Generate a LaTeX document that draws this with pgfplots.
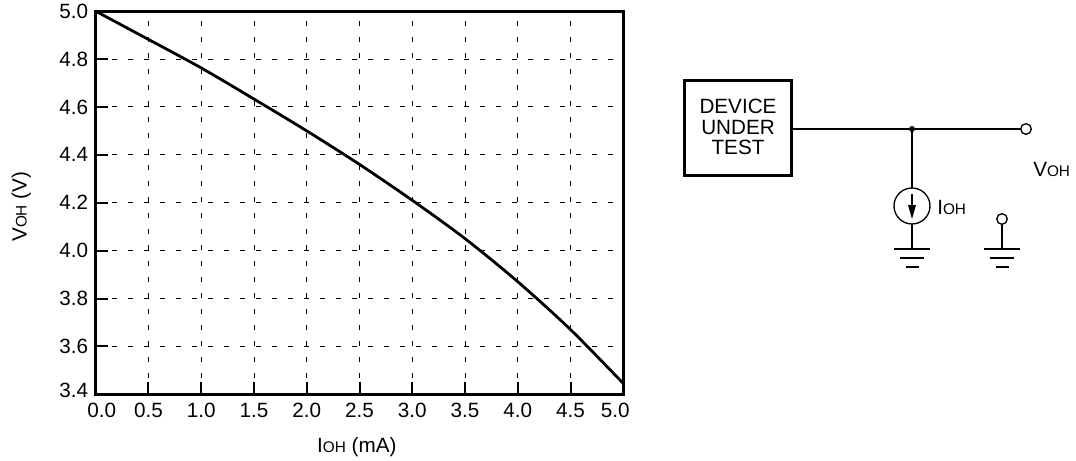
\documentclass[border=0pt]{standalone}
\usepackage{pgfplots}
\pgfplotsset{compat=1.18}
\usepackage{fontspec}
\setmainfont{Liberation Sans}
\newcommand{\sm}[1]{{\fontsize{11.5}{12}\selectfont #1}}
\begin{document}
\begin{tikzpicture}[x=0.75pt,y=-0.75pt,line cap=butt]
\useasboundingbox (0,0) rectangle (1076,461);
\begin{axis}[at={(71.8pt,-295.7pt)},anchor=south west,scale only axis,width=395.7pt,height=287.3pt,
 xmin=0,xmax=5,ymin=3.4,ymax=5,
 xtick={0,0.5,...,5},ytick={3.4,3.6,...,5},
 xticklabels={\hspace*{9pt}0.0,0.5,1.0,1.5,2.0,2.5,3.0,3.5,4.0,4.5,5.0\hspace*{12pt}},
 yticklabels={\raisebox{6pt}{3.4},3.6,3.8,4.0,4.2,4.4,4.6,4.8,\raisebox{-6pt}{5.0}},
 ticklabel style={font=\fontsize{15.5}{17}\selectfont},
 xticklabel style={yshift=-3pt},
 yticklabel style={xshift=-2.2pt},
 axis line style={line width=2.3pt},
 major tick style={line width=1.5pt,black},
 tick align=inside,major tick length=9.5pt,
 xtick pos=bottom,ytick pos=left,
 grid=major,
 grid style={black,line width=0.75pt,dash pattern=on 4pt off 8pt},
 xlabel={I\sm{OH} (mA)},ylabel={V\sm{OH} (V)},
 label style={font=\fontsize{15.5}{17}\selectfont},
 xlabel style={yshift=-8pt,xshift=-2pt},
 ylabel style={yshift=14.5pt,xshift=-3pt},
 clip=false]
\addplot[black,line width=2.1pt,smooth] coordinates {(0,5.0)(0.5,4.882)(1,4.763)(1.5,4.633)(2,4.5)(2.5,4.36)(3,4.21)(3.5,4.05)(4,3.87)(4.5,3.67)(5,3.445)};
\end{axis}
% circuit schematic
\draw[line width=2.2pt] (684.5,80.5) rectangle (791.5,175.5);
\node[align=center,font=\fontsize{15.5}{15.5}\selectfont,inner sep=0] at (738,127) {DEVICE\\UNDER\\TEST};
\draw[line width=1.5pt] (793,129) -- (1020.5,129);
\fill (912,129) circle (3);
\draw[line width=1pt] (1026,129) circle (5.3);
\node[font=\fontsize{15.5}{17}\selectfont,inner sep=0,anchor=west] at (1033,169) {V\sm{OH}};
\draw[line width=1.5pt] (912,129) -- (912,188);
\draw[line width=1pt] (912,206) circle (18);
\draw[line width=1.5pt] (912,224) -- (912,249);
\draw[line width=1.2pt] (912,194) -- (912,206);
\fill (908,205) -- (916,205) -- (912,219) -- cycle;
\node[font=\fontsize{15.5}{17}\selectfont,inner sep=0,anchor=west] at (937,207) {I\sm{OH}};
\draw[line width=1.5pt] (894,249) -- (930,249) (900,258) -- (924,258) (906,267) -- (919,267);
\draw[line width=1pt] (1002,219) circle (5.3);
\draw[line width=1.5pt] (1002,224.5) -- (1002,249);
\draw[line width=1.5pt] (984,249) -- (1020,249) (990,258) -- (1014,258) (996,267) -- (1009,267);
\end{tikzpicture}
\end{document}
